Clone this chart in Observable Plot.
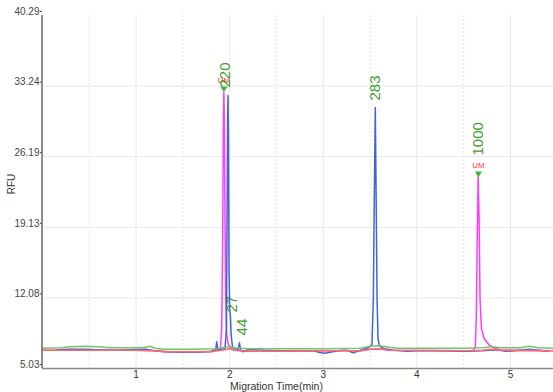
<!DOCTYPE html>
<html><head><meta charset="utf-8">
<script src="https://cdn.jsdelivr.net/npm/d3@7"></script>
<script src="https://cdn.jsdelivr.net/npm/@observablehq/plot@0.6"></script>
<style>body{margin:0;background:#fff;} #chart{width:553px;height:392px;}</style>
</head><body><div id="chart"></div>
<script>
const yTicks = [5.03, 12.08, 19.13, 26.19, 33.24, 40.29];
const xTicks = [1, 2, 3, 4, 5];
const xHalfTicks = [0.5, 1.5, 2.5, 3.5, 4.5];

const greenT = [0, 0.2, 0.3, 0.45, 0.6, 0.7, 1.0, 1.1, 1.15, 1.2, 1.3, 1.6, 1.85, 1.95, 2.0, 2.05, 2.2, 2.5, 3.0, 3.4, 3.5, 3.6, 3.7, 3.8, 4.5, 4.7, 4.8, 4.9, 5.1, 5.2, 5.3, 5.46];
const greenV = [7.05, 7.1, 7.2, 7.25, 7.2, 7.1, 7.1, 7.15, 7.25, 7.05, 6.95, 6.95, 7.0, 7.15, 7.2, 7.1, 7.0, 7.0, 7.0, 7.05, 7.25, 7.3, 7.15, 7.05, 7.05, 7.1, 7.2, 7.1, 7.1, 7.25, 7.1, 7.05];

const redT = [0, 0.5, 1.0, 1.2, 1.3, 1.8, 1.95, 2.0, 2.05, 2.2, 3.0, 3.4, 3.5, 3.6, 3.7, 4.5, 4.7, 4.8, 4.9, 5.46];
const redV = [6.85, 6.85, 6.85, 6.8, 6.7, 6.7, 6.9, 7.0, 6.85, 6.75, 6.8, 6.8, 6.95, 7.0, 6.85, 6.8, 6.85, 6.95, 6.85, 6.8];

const magentaT = [0, 0.5, 1.0, 1.2, 1.3, 1.8, 1.9, 1.915, 1.925, 1.933, 1.938, 1.943, 1.95, 1.958, 1.968, 1.985, 2.02, 2.05, 2.2, 3.0, 3.4, 3.5, 3.6, 3.7, 4.5, 4.6, 4.625, 4.635, 4.645, 4.655, 4.665, 4.675, 4.69, 4.72, 4.77, 4.82, 4.9, 5.46];
const magentaV = [6.85, 6.85, 6.85, 6.8, 6.7, 6.7, 7.0, 9, 18, 30, 32.6, 30, 20, 12, 8.5, 7.4, 7.05, 6.85, 6.75, 6.8, 6.8, 6.95, 7.0, 6.85, 6.8, 6.8, 7.2, 10, 18, 24.3, 20, 12, 9.0, 8.0, 7.4, 7.1, 6.85, 6.8];

const blueT = [0.15, 0.3, 0.45, 0.6, 0.75, 0.9, 1.1, 1.2, 1.35, 1.5, 1.65, 1.8, 1.85, 1.862, 1.872, 1.9, 1.95, 1.965, 1.972, 1.978, 1.982, 1.987, 1.993, 2.0, 2.008, 2.015, 2.03, 2.06, 2.09, 2.105, 2.115, 2.14, 2.2, 2.25, 2.3, 2.33, 2.36, 2.5, 2.75, 2.9, 2.95, 3.02, 3.1, 3.2, 3.25, 3.32, 3.4, 3.48, 3.52, 3.535, 3.545, 3.556, 3.565, 3.575, 3.585, 3.6, 3.65, 3.75, 3.9, 4.0, 4.2, 4.5, 4.7, 4.85, 4.95, 5.05, 5.2, 5.3, 5.4];
const blueV = [6.9, 6.95, 6.95, 6.9, 6.85, 6.9, 6.95, 6.8, 6.7, 6.65, 6.65, 6.75, 6.9, 7.7, 6.95, 6.95, 7.0, 9, 20, 30, 32.3, 28, 15, 11, 10.2, 8.5, 7.2, 7.0, 6.9, 7.6, 6.9, 6.7, 6.9, 6.95, 6.85, 7.05, 6.85, 6.8, 6.8, 6.8, 6.65, 6.55, 6.7, 6.85, 6.85, 6.6, 6.85, 7.1, 7.4, 12, 22, 31.1, 22, 12, 8, 7.3, 7.0, 6.85, 6.75, 6.8, 6.8, 6.75, 6.8, 6.9, 6.75, 6.8, 6.95, 6.85, 6.75];

const peakLabel = ["220", "283", "1000", "27", "44"];
const peakT = [1.952, 3.556, 4.658, 2.024, 2.13];
const peakV = [33.1, 31.8, 26.3, 10.62, 8.33];

const umLabel = ["UM", "UM"];
const umT = [1.938, 4.658];
const umV = [33.8, 25.3];

const markT = [1.938, 4.658];
const markV = [33.0, 24.5];

const rows = (T, V) => T.map((t, i) => ({t, v: V[i]}));
const font = "Liberation Sans, Arial, sans-serif";

const chart = Plot.plot({
  width: 553, height: 392,
  marginTop: 15, marginBottom: 24, marginLeft: 42, marginRight: 0,
  x: {domain: [0, 5.46]},
  y: {domain: [5.03, 40.29]},
  style: {fontFamily: font, fontSize: "10px", background: "#fff", color: "#444"},
  marks: [
    Plot.gridY(yTicks.slice(1, -1), {stroke: "#e8e8e8", strokeOpacity: 1}),
    Plot.gridX(xTicks, {stroke: "#e8e8e8", strokeOpacity: 1}),
    Plot.gridX(xHalfTicks, {stroke: "#e6e6e6", strokeOpacity: 1, strokeDasharray: "2,2"}),
    Plot.line(rows(magentaT, magentaV), {x: "t", y: "v", stroke: "#ff3dff", strokeWidth: 1.5}),
    Plot.line(rows(blueT, blueV), {x: "t", y: "v", stroke: "#4263da", strokeWidth: 1.5}),
    Plot.line(rows(greenT, greenV), {x: "t", y: "v", stroke: "#72c46a", strokeWidth: 1.6}),
    Plot.line(rows(redT, redV), {x: "t", y: "v", stroke: "#ff6a6a", strokeWidth: 1.6}),
    Plot.axisX({ticks: xTicks, tickFormat: d => String(d), tickSize: 0, tickPadding: 2, label: null, fill: "#333"}),
    Plot.axisY({ticks: yTicks, tickFormat: d => d.toFixed(2), tickSize: 2, tickPadding: 1, dy: -4, label: null, fill: "#444"}),
    Plot.ruleX([0], {stroke: "#666", strokeWidth: 1.5, dx: -0.5}),
    Plot.ruleY([5.03], {stroke: "#888", strokeWidth: 1.5}),
    Plot.dot(rows(markT, markV), {x: "t", y: "v", symbol: "triangle", r: 2.6, rotate: 180, fill: "#3fb83a", stroke: "none"}),
    Plot.text(umT.map((t, i) => ({t, v: umV[i], s: umLabel[i]})), {x: "t", y: "v", text: "s", fill: "#ff3030", fontSize: 8}),
    Plot.text(peakT.map((t, i) => ({t, v: peakV[i], s: peakLabel[i]})), {x: "t", y: "v", text: "s", rotate: -90, textAnchor: "start", fill: "#3f9e2e", fontSize: 15})
  ]
});
document.getElementById("chart").appendChild(chart);
const svg = d3.select(chart);
svg.append("text").attr("x", 276.5).attr("y", 390).attr("text-anchor", "middle")
  .attr("font-family", font).attr("font-size", 10.5).attr("fill", "#333").text("Migration Time(min)");
svg.append("text").attr("transform", "translate(15,184) rotate(-90)").attr("text-anchor", "middle")
  .attr("font-family", font).attr("font-size", 10).attr("fill", "#333").text("RFU");
</script>
</body></html>
